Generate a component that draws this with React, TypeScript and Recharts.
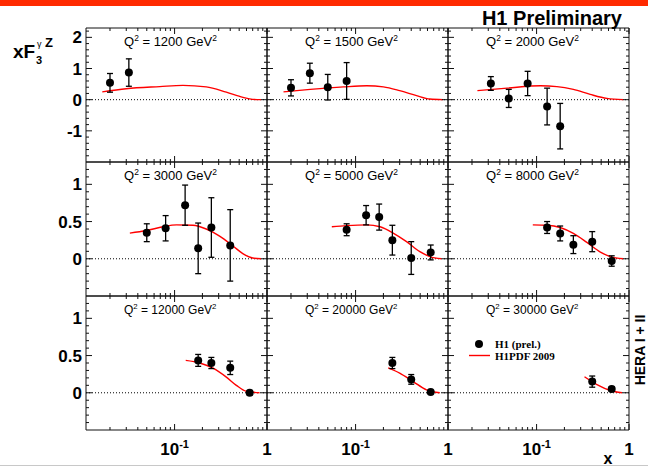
import React from 'react';
import { ComposedChart, Scatter, Line, XAxis, YAxis, ErrorBar, ReferenceLine } from 'recharts';

const SANS = '"Liberation Sans", Arial, Helvetica, sans-serif';
const SERIF = '"Liberation Serif", "Times New Roman", serif';

// ---- data (x, xF3 value, error) ----
const Q2_LABELS = ['1200', '1500', '2000', '3000', '5000', '8000', '12000', '20000', '30000'];

const PTS_1200 = [{ x: 0.02, y: 0.54, e: 0.30 }, { x: 0.032, y: 0.87, e: 0.44 }];
const PTS_1500 = [{ x: 0.02, y: 0.38, e: 0.26 }, { x: 0.032, y: 0.85, e: 0.32 }, { x: 0.05, y: 0.40, e: 0.41 }, { x: 0.08, y: 0.60, e: 0.59 }];
const PTS_2000 = [{ x: 0.032, y: 0.52, e: 0.22 }, { x: 0.05, y: 0.04, e: 0.29 }, { x: 0.08, y: 0.52, e: 0.39 }, { x: 0.13, y: -0.22, e: 0.59 }, { x: 0.18, y: -0.85, e: 0.73 }];
const PTS_3000 = [{ x: 0.05, y: 0.35, e: 0.12 }, { x: 0.08, y: 0.41, e: 0.17 }, { x: 0.13, y: 0.72, e: 0.27 }, { x: 0.18, y: 0.14, e: 0.34 }, { x: 0.25, y: 0.42, e: 0.40 }, { x: 0.40, y: 0.18, e: 0.48 }];
const PTS_5000 = [{ x: 0.08, y: 0.39, e: 0.08 }, { x: 0.13, y: 0.585, e: 0.13 }, { x: 0.18, y: 0.56, e: 0.175 }, { x: 0.25, y: 0.25, e: 0.20 }, { x: 0.40, y: 0.01, e: 0.22 }, { x: 0.65, y: 0.085, e: 0.10 }];
const PTS_8000 = [{ x: 0.13, y: 0.42, e: 0.08 }, { x: 0.18, y: 0.34, e: 0.10 }, { x: 0.25, y: 0.19, e: 0.12 }, { x: 0.40, y: 0.23, e: 0.135 }, { x: 0.65, y: -0.03, e: 0.07 }];
const PTS_12000 = [{ x: 0.18, y: 0.435, e: 0.08 }, { x: 0.25, y: 0.40, e: 0.075 }, { x: 0.40, y: 0.335, e: 0.09 }, { x: 0.65, y: 0.0, e: 0.03 }];
const PTS_20000 = [{ x: 0.25, y: 0.40, e: 0.075 }, { x: 0.40, y: 0.18, e: 0.065 }, { x: 0.65, y: 0.01, e: 0.02 }];
const PTS_30000 = [{ x: 0.40, y: 0.15, e: 0.075 }, { x: 0.65, y: 0.05, e: 0.03 }];

// ---- H1PDF 2009 curves ----
const CURVE_1200 = [{ x: 0.0165, y: 0.25 }, { x: 0.030, y: 0.35 }, { x: 0.069, y: 0.42 }, { x: 0.123, y: 0.46 }, { x: 0.22, y: 0.41 }, { x: 0.363, y: 0.24 }, { x: 0.55, y: 0.075 }, { x: 0.70, y: 0.01 }, { x: 0.865, y: 0 }];
const CURVE_1500 = [{ x: 0.0166, y: 0.25 }, { x: 0.0323, y: 0.33 }, { x: 0.074, y: 0.41 }, { x: 0.132, y: 0.445 }, { x: 0.20, y: 0.41 }, { x: 0.30, y: 0.29 }, { x: 0.457, y: 0.13 }, { x: 0.635, y: 0.02 }, { x: 0.885, y: 0 }];
const CURVE_2000 = [{ x: 0.0229, y: 0.29 }, { x: 0.048, y: 0.37 }, { x: 0.11, y: 0.445 }, { x: 0.166, y: 0.42 }, { x: 0.25, y: 0.33 }, { x: 0.38, y: 0.17 }, { x: 0.577, y: 0.04 }, { x: 0.87, y: 0 }];
const CURVE_3000 = [{ x: 0.0328, y: 0.345 }, { x: 0.0497, y: 0.38 }, { x: 0.075, y: 0.43 }, { x: 0.105, y: 0.455 }, { x: 0.158, y: 0.45 }, { x: 0.22, y: 0.40 }, { x: 0.307, y: 0.305 }, { x: 0.43, y: 0.17 }, { x: 0.547, y: 0.07 }, { x: 0.70, y: 0.01 }, { x: 0.865, y: 0 }];
const CURVE_5000 = [{ x: 0.0553, y: 0.43 }, { x: 0.080, y: 0.445 }, { x: 0.132, y: 0.455 }, { x: 0.184, y: 0.43 }, { x: 0.255, y: 0.345 }, { x: 0.356, y: 0.23 }, { x: 0.496, y: 0.095 }, { x: 0.635, y: 0.03 }, { x: 0.85, y: 0 }];
const CURVE_8000 = [{ x: 0.091, y: 0.455 }, { x: 0.13, y: 0.45 }, { x: 0.18, y: 0.42 }, { x: 0.25, y: 0.34 }, { x: 0.35, y: 0.22 }, { x: 0.49, y: 0.09 }, { x: 0.625, y: 0.03 }, { x: 0.87, y: 0 }];
const CURVE_12000 = [{ x: 0.132, y: 0.435 }, { x: 0.187, y: 0.40 }, { x: 0.26, y: 0.33 }, { x: 0.363, y: 0.21 }, { x: 0.466, y: 0.10 }, { x: 0.596, y: 0.02 }, { x: 0.83, y: 0 }];
const CURVE_20000 = [{ x: 0.225, y: 0.335 }, { x: 0.30, y: 0.265 }, { x: 0.42, y: 0.15 }, { x: 0.585, y: 0.04 }, { x: 0.815, y: 0 }];
const CURVE_30000 = [{ x: 0.33, y: 0.215 }, { x: 0.45, y: 0.11 }, { x: 0.63, y: 0.03 }, { x: 0.84, y: 0 }];

// ---- axes ----
const X_DOMAIN = [0.011, 1];
const X_MAJOR = [0.1, 1];
const X_TICKS = [0.02, 0.03, 0.04, 0.05, 0.06, 0.07, 0.08, 0.09, 0.1, 0.2, 0.3, 0.4, 0.5, 0.6, 0.7, 0.8, 0.9, 1];
const Y_DOMAIN_TOP = [-2, 2.3];
const Y_DOMAIN_LOW = [-0.5, 1.3];
const Y_MAJOR_TOP = [-1, 0, 1, 2];
const Y_TICKS_TOP = [-1.8, -1.6, -1.4, -1.2, -1, -0.8, -0.6, -0.4, -0.2, 0, 0.2, 0.4, 0.6, 0.8, 1, 1.2, 1.4, 1.6, 1.8, 2, 2.2];
const Y_MAJOR_LOW = [0, 0.5, 1];
const Y_TICKS_LOW = [-0.4, -0.3, -0.2, -0.1, 0, 0.1, 0.2, 0.3, 0.4, 0.5, 0.6, 0.7, 0.8, 0.9, 1, 1.1, 1.2];

const PANELS = [
  { q2: Q2_LABELS[0], pts: PTS_1200, curve: CURVE_1200 },
  { q2: Q2_LABELS[1], pts: PTS_1500, curve: CURVE_1500 },
  { q2: Q2_LABELS[2], pts: PTS_2000, curve: CURVE_2000 },
  { q2: Q2_LABELS[3], pts: PTS_3000, curve: CURVE_3000 },
  { q2: Q2_LABELS[4], pts: PTS_5000, curve: CURVE_5000 },
  { q2: Q2_LABELS[5], pts: PTS_8000, curve: CURVE_8000 },
  { q2: Q2_LABELS[6], pts: PTS_12000, curve: CURVE_12000 },
  { q2: Q2_LABELS[7], pts: PTS_20000, curve: CURVE_20000 },
  { q2: Q2_LABELS[8], pts: PTS_30000, curve: CURVE_30000 },
];

const COL_LEFT = [86, 267, 448];
const ROW_TOP = [28, 162, 296];
const PW = 181;
const PH = 134;
// outer padding around each panel's plot area (axes take 1px each)
const PAD = { top: 10, right: 10, bottom: 40, left: 50 };
const M = { top: PAD.top - 1, right: PAD.right - 1, bottom: PAD.bottom - 1, left: PAD.left - 1 };
const FRAME = '#111';

const isIn = (arr: number[], v: number) => arr.some((m) => Math.abs(m - v) < 1e-9);

const makeTick = (side: string, majors: number[], showLabel: boolean) => (props: any) => {
  const { x, y, payload } = props;
  const v = payload.value;
  const major = isIn(majors, v);
  const len = major ? 6 : 3;
  let x2 = x;
  let y2 = y;
  if (side === 'bottom') y2 = y - len;
  else if (side === 'top') y2 = y + len;
  else if (side === 'left') x2 = x + len;
  else x2 = x - len;
  let label: any = null;
  if (showLabel && major) {
    if (side === 'bottom') {
      label = v === 1 ? (
        <text x={x} y={y + 25} textAnchor="middle" fontFamily={SANS} fontWeight="bold" fontSize={17} fill="#000">1</text>
      ) : (
        <text x={x} y={y + 25} textAnchor="middle" fontFamily={SANS} fontWeight="bold" fontSize={17} fill="#000">
          10<tspan dy={-7} fontSize={11}>-1</tspan>
        </text>
      );
    } else if (side === 'left') {
      label = (
        <text x={x - 4} y={y + 6} textAnchor="end" fontFamily={SANS} fontWeight="bold" fontSize={17} fill="#000">{String(v)}</text>
      );
    }
  }
  return (
    <g>
      <line x1={x} y1={y} x2={x2} y2={y2} stroke={FRAME} strokeWidth={1} />
      {label}
    </g>
  );
};

const Dot = (p: any) => <circle cx={p.cx} cy={p.cy} r={4} fill="#000" />;

function Panel({ idx }: { idx: number }) {
  const row = Math.floor(idx / 3);
  const col = idx % 3;
  const p = PANELS[idx];
  const yDomain = row === 0 ? Y_DOMAIN_TOP : Y_DOMAIN_LOW;
  const yTicks = row === 0 ? Y_TICKS_TOP : Y_TICKS_LOW;
  const yMajor = row === 0 ? Y_MAJOR_TOP : Y_MAJOR_LOW;
  return (
    <div style={{ position: 'absolute', left: COL_LEFT[col] - PAD.left, top: ROW_TOP[row] - PAD.top }}>
      <ComposedChart width={PW + PAD.left + PAD.right} height={PH + PAD.top + PAD.bottom} margin={M}>
        <XAxis xAxisId="b" dataKey="x" type="number" scale="log" domain={X_DOMAIN} allowDataOverflow
          ticks={X_TICKS} interval={0} orientation="bottom" height={1} tickSize={0} tickMargin={0}
          axisLine={{ stroke: FRAME }} tickLine={false} tick={makeTick('bottom', X_MAJOR, row === 2)} />
        <XAxis xAxisId="t" dataKey="x" type="number" scale="log" domain={X_DOMAIN} allowDataOverflow
          ticks={X_TICKS} interval={0} orientation="top" height={1} tickSize={0} tickMargin={0}
          axisLine={{ stroke: FRAME }} tickLine={false} tick={makeTick('top', X_MAJOR, false)} />
        <YAxis yAxisId="l" dataKey="y" type="number" domain={yDomain} allowDataOverflow
          ticks={yTicks} interval={0} orientation="left" width={1} tickSize={0} tickMargin={0}
          axisLine={{ stroke: FRAME }} tickLine={false} tick={makeTick('left', yMajor, col === 0)} />
        <YAxis yAxisId="r" dataKey="y" type="number" domain={yDomain} allowDataOverflow
          ticks={yTicks} interval={0} orientation="right" width={1} tickSize={0} tickMargin={0}
          axisLine={{ stroke: FRAME }} tickLine={false} tick={makeTick('right', yMajor, false)} />
        <ReferenceLine xAxisId="b" yAxisId="l" y={0} stroke="#000" strokeWidth={1} strokeDasharray="1 2" />
        <Line xAxisId="b" yAxisId="l" data={p.curve} dataKey="y" type="monotone" stroke="#ff0000"
          strokeWidth={1.4} dot={false} activeDot={false} isAnimationActive={false} />
        <Scatter xAxisId="b" yAxisId="l" data={p.pts} dataKey="y" shape={Dot} isAnimationActive={false}>
          <ErrorBar dataKey="e" direction="y" width={3} stroke="#000" strokeWidth={1.3} isAnimationActive={false} />
        </Scatter>
      </ComposedChart>
    </div>
  );
}

function Q2Label({ idx }: { idx: number }) {
  const row = Math.floor(idx / 3);
  const col = idx % 3;
  const fs = row === 2 ? 12 : 13;
  return (
    <text x={COL_LEFT[col] + 38} y={ROW_TOP[row] + 18} fontFamily={SANS} fontSize={fs} fill="#000">
      Q<tspan dy={-5} fontSize={fs * 0.65}>2</tspan>
      <tspan dy={5}>{` = ${PANELS[idx].q2} GeV`}</tspan>
      <tspan dy={-5} fontSize={fs * 0.65}>2</tspan>
    </text>
  );
}

export default function App() {
  return (
    <div style={{ position: 'absolute', left: 0, top: 0, width: 648, height: 466, background: '#fff', overflow: 'hidden' }}>
      {PANELS.map((_, i) => (
        <Panel key={i} idx={i} />
      ))}
      <svg width={648} height={466} style={{ position: 'absolute', left: 0, top: 0, pointerEvents: 'none' }}>
        <rect x={0} y={0} width={648} height={6} fill="#ff2a00" />
        <text x={622} y={24.5} textAnchor="end" fontFamily={SANS} fontWeight="bold" fontSize={20} fill="#000">H1 Preliminary</text>
        <text x={13} y={58} fontFamily={SANS} fontWeight="bold" fontSize={19} fill="#000">xF</text>
        <text x={36} y={64} fontFamily={SANS} fontWeight="bold" fontSize={11} fill="#000">3</text>
        <text x={37} y={47} fontFamily={SANS} fontSize={9} fill="#000">γ</text>
        <text x={45} y={47} fontFamily={SANS} fontWeight="bold" fontSize={13} fill="#000">Z</text>
        {PANELS.map((_, i) => (
          <Q2Label key={i} idx={i} />
        ))}
        <circle cx={479} cy={344} r={4} fill="#000" />
        <line x1={469} y1={355.5} x2={490} y2={355.5} stroke="#ff0000" strokeWidth={1.4} />
        <text x={495} y={347.5} fontFamily={SERIF} fontWeight="bold" fontSize={11} fill="#000">H1 (prel.)</text>
        <text x={495} y={360} fontFamily={SERIF} fontWeight="bold" fontSize={11} fill="#000">H1PDF 2009</text>
        <text transform="translate(645, 350) rotate(-90)" textAnchor="middle" fontFamily={SANS} fontWeight="bold" fontSize={14} fill="#000">HERA I + II</text>
        <text x={608} y={464} textAnchor="middle" fontFamily={SANS} fontWeight="bold" fontSize={16} fill="#000">x</text>
        <line x1={0} y1={465.5} x2={648} y2={465.5} stroke="#c8c8c8" strokeWidth={1} />
      </svg>
    </div>
  );
}
